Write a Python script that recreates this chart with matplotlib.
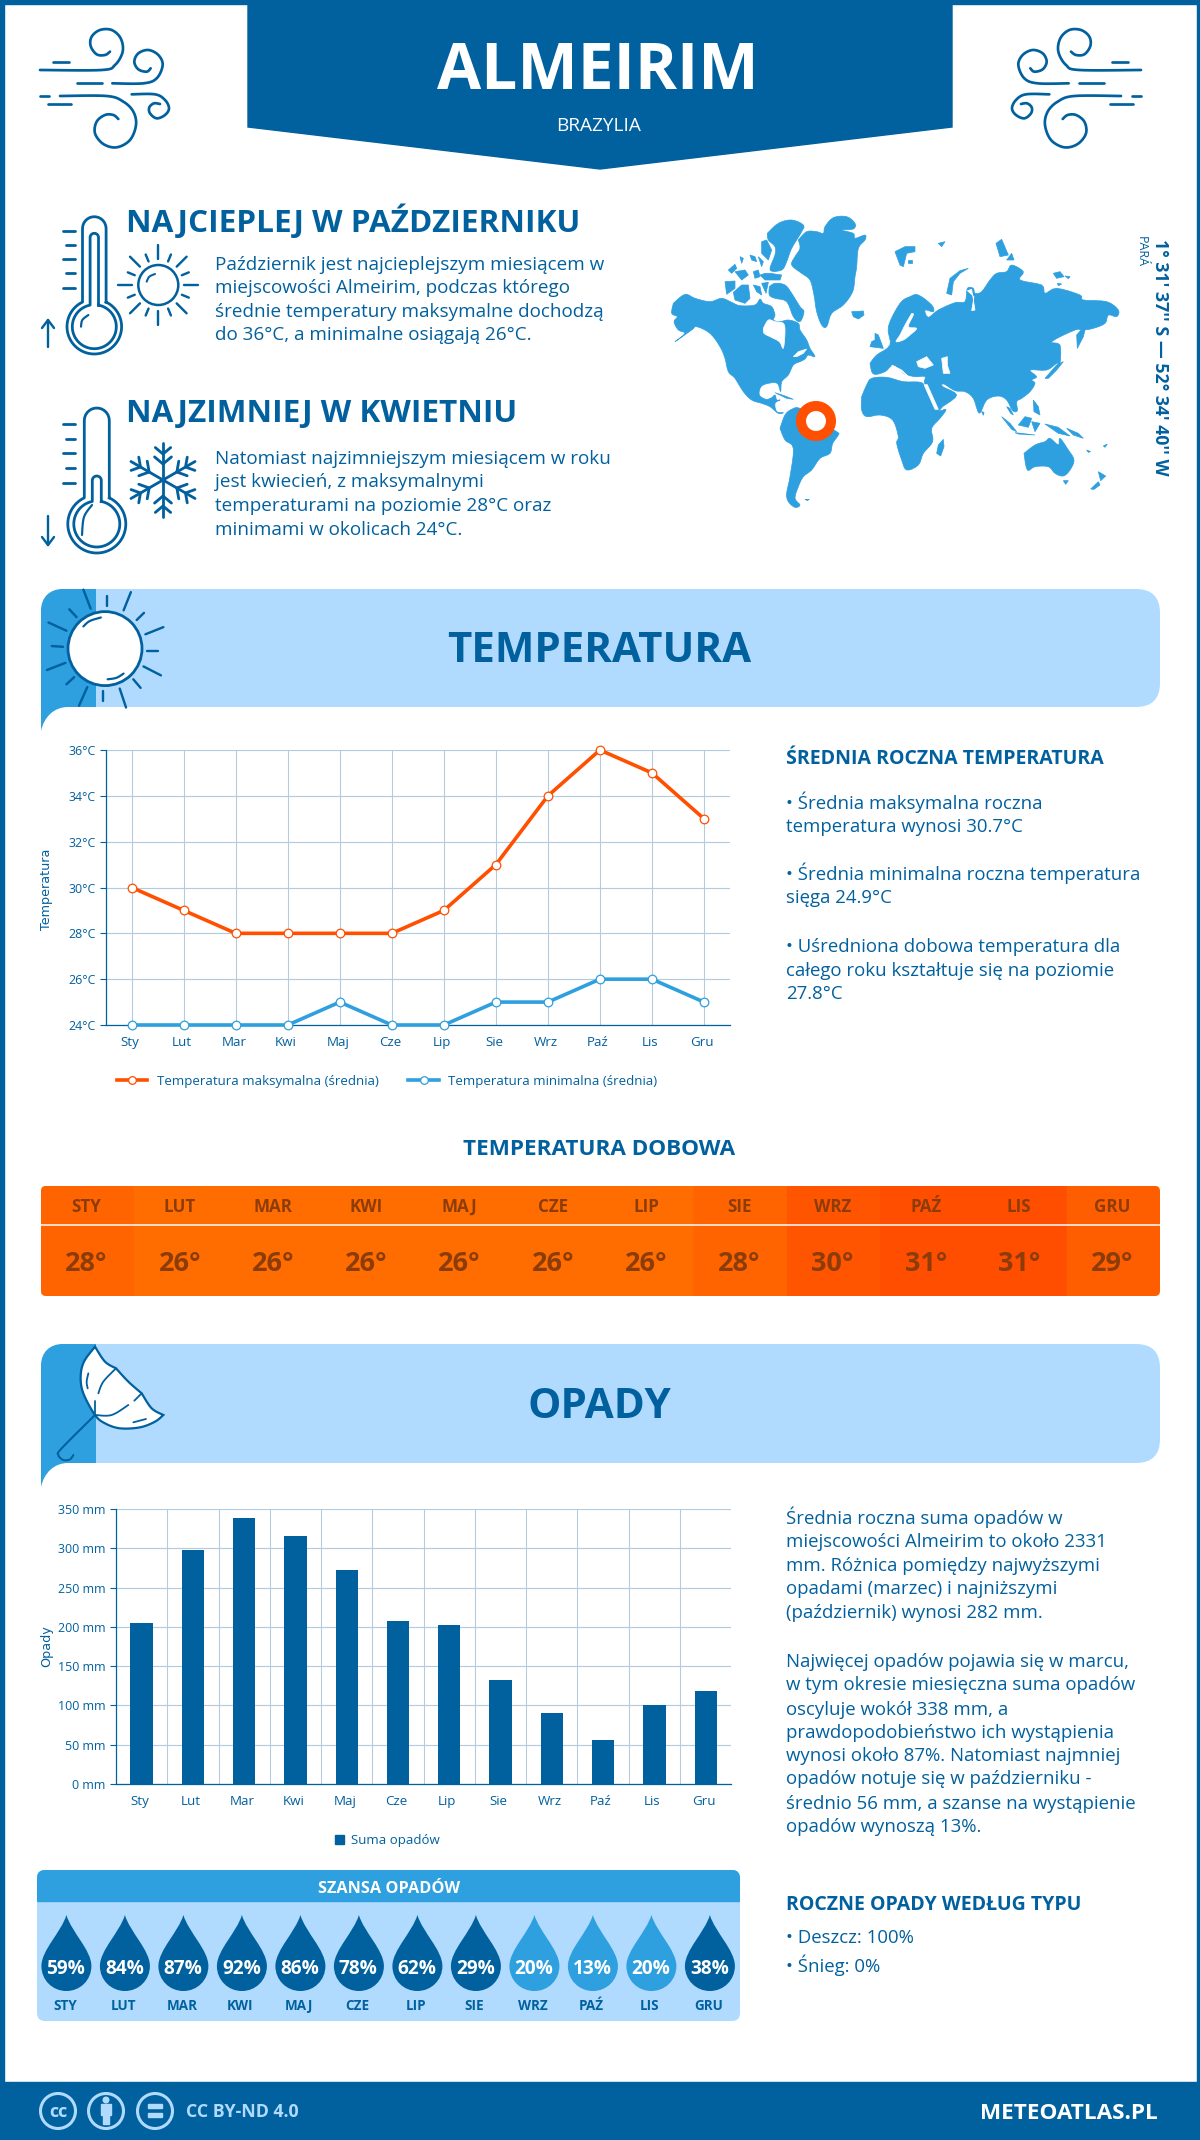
import numpy as np
import matplotlib
matplotlib.use('Agg')
import matplotlib.pyplot as plt
from matplotlib.patches import Polygon, Circle, Rectangle, FancyBboxPatch, PathPatch
from matplotlib.path import Path
from matplotlib.ticker import FixedLocator, FuncFormatter
from matplotlib.transforms import ScaledTranslation

plt.rcParams['font.family'] = ['Open Sans', 'DejaVu Sans']

DARK = '#01609e'
MID = '#2e9fdf'
LIGHT = '#b0dbff'
ORANGE = '#ff4f00'
GRID = '#b3cbdf'
BROWN = '#8c3c08'

months = ['Sty', 'Lut', 'Mar', 'Kwi', 'Maj', 'Cze', 'Lip', 'Sie', 'Wrz', 'Paź', 'Lis', 'Gru']
months_up = ['STY', 'LUT', 'MAR', 'KWI', 'MAJ', 'CZE', 'LIP', 'SIE', 'WRZ', 'PAŹ', 'LIS', 'GRU']
temp_max = [30, 29, 28, 28, 28, 28, 29, 31, 34, 36, 35, 33]
temp_min = [24, 24, 24, 24, 25, 24, 24, 25, 25, 26, 26, 25]
temp_day = [28, 26, 26, 26, 26, 26, 26, 28, 30, 31, 31, 29]
rain = [205, 298, 338, 316, 272, 208, 202, 132, 90, 56, 100, 119]
rain_chance = [59, 84, 87, 92, 86, 78, 62, 29, 20, 13, 20, 38]
temp_ticks = [24, 26, 28, 30, 32, 34, 36]
rain_ticks = [0, 50, 100, 150, 200, 250, 300, 350]
day_colors = {26: '#ff6c00', 28: '#ff6400', 29: '#ff5e00', 30: '#ff5500', 31: '#ff4e00'}

hot_lines = ['Październik jest najcieplejszym miesiącem w',
             'miejscowości Almeirim, podczas którego',
             'średnie temperatury maksymalne dochodzą',
             'do 36°C, a minimalne osiągają 26°C.']
cold_lines = ['Natomiast najzimniejszym miesiącem w roku',
              'jest kwiecień, z maksymalnymi',
              'temperaturami na poziomie 28°C oraz',
              'minimami w okolicach 24°C.']
temp_lines = [(802, '• Średnia maksymalna roczna'), (825, 'temperatura wynosi 30.7°C'),
              (873, '• Średnia minimalna roczna temperatura'), (896, 'sięga 24.9°C'),
              (945, '• Uśredniona dobowa temperatura dla'), (969, 'całego roku kształtuje się na poziomie'),
              (992, '27.8°C')]
rain_lines = [(1517, 'Średnia roczna suma opadów w'), (1540, 'miejscowości Almeirim to około 2331'),
              (1564, 'mm. Różnica pomiędzy najwyższymi'), (1587, 'opadami (marzec) i najniższymi'),
              (1611, '(październik) wynosi 282 mm.'),
              (1660, 'Najwięcej opadów pojawia się w marcu,'), (1683, 'w tym okresie miesięczna suma opadów'),
              (1708, 'oscyluje wokół 338 mm, a'), (1731, 'prawdopodobieństwo ich wystąpienia'),
              (1754, 'wynosi około 87%. Natomiast najmniej'), (1777, 'opadów notuje się w październiku -'),
              (1802, 'średnio 56 mm, a szanse na wystąpienie'), (1825, 'opadów wynoszą 13%.')]

fig = plt.figure(figsize=(12, 21.4), dpi=100, facecolor='white')
bg = fig.add_axes([0, 0, 1, 1])
bg.set_xlim(0, 1200)
bg.set_ylim(2140, 0)
bg.axis('off')


def px_axes(left, top, right, bottom):
    return fig.add_axes([left / 1200, 1 - bottom / 2140, (right - left) / 1200, (bottom - top) / 2140],
                        facecolor='none')


def txt(x, y, s, size, color=DARK, weight='normal', ha='left', **kw):
    # y is the middle of the capitals, size in pixels
    return bg.text(x, y + 0.357 * size, s, fontsize=size * 0.72, color=color, fontweight=weight,
                   ha=ha, va='baseline', **kw)


def curve(pts, n=10):
    p = np.array(pts, dtype=float)
    p = np.vstack([p[0], p, p[-1]])
    out = []
    for i in range(1, len(p) - 2):
        for t in np.linspace(0, 1, n, endpoint=False):
            out.append(0.5 * (2 * p[i] + (p[i + 1] - p[i - 1]) * t
                              + (2 * p[i - 1] - 5 * p[i] + 4 * p[i + 1] - p[i + 2]) * t ** 2
                              + (3 * p[i] - p[i - 1] - 3 * p[i + 1] + p[i + 2]) * t ** 3))
    out.append(p[-2])
    return np.array(out)


def stroke(pts, lw=2.5, color=DARK, smooth=True, z=3):
    a = curve(pts) if smooth else np.array(pts, dtype=float)
    bg.plot(a[:, 0], a[:, 1], color=color, lw=lw * 0.72, solid_capstyle='round', zorder=z)


def crop(x0, y0, sx=3.0, sy=3.0):
    return lambda pts: [(x0 + x / sx, y0 + y / sy) for x, y in pts]


A = crop(660, 205)
B = crop(860, 230)
C = crop(720, 370)
D = crop(30, 20)
E = crop(40, 1340)
F = crop(55, 210)

# frame, header, footer
bg.add_patch(Rectangle((0, 0), 1200, 3.5, color=DARK))
bg.add_patch(Rectangle((0, 0), 3.5, 2140, color=DARK))
bg.add_patch(Rectangle((1196.5, 0), 3.5, 2140, color=DARK))
bg.add_patch(Polygon([(248, 0), (952, 0), (952, 127), (600, 169), (248, 127)], color=DARK))
bg.add_patch(Rectangle((0, 2082), 1200, 58, color=DARK))
txt(598, 66, 'ALMEIRIM', 64, 'white', 'bold', ha='center')
txt(599, 124, 'BRAZYLIA', 19, 'white', ha='center')

# wind icons, second one mirrored
wind = [[(30, 150), (215, 150), (255, 135), (278, 95), (272, 55), (245, 30), (210, 30), (185, 50), (182, 78),
         (200, 103), (225, 105), (240, 95)],
        [(70, 125), (118, 125)],
        [(140, 190), (215, 190)],
        [(247, 190), (340, 190), (380, 175), (398, 135), (385, 105), (355, 90), (325, 100), (313, 125), (325, 148),
         (350, 155), (362, 145)],
        [(30, 228), (58, 228)],
        [(90, 228), (230, 228), (280, 245), (310, 275), (318, 315), (300, 360), (260, 382), (220, 372), (195, 340),
         (200, 305), (225, 285), (250, 285), (265, 297)],
        [(55, 253), (122, 253)],
        [(305, 223), (375, 223), (405, 240), (417, 265), (405, 285), (380, 295), (360, 280), (358, 262), (372, 250),
         (390, 252)]]
for w in wind:
    stroke(D(w), 2.7)
    stroke([(1181 - x, y) for x, y in D(w)], 2.7)


# thermometers
def thermometer(cx, top, bulb, inner_top, ticks, arrow_up, r_out, r_in, tw_out, tw_in):
    for r, tw, t0 in [(r_out, tw_out, top), (r_in, tw_in, inner_top)]:
        s = np.arcsin(tw / r)
        ang = np.linspace(-np.pi / 2 + s, 3 * np.pi / 2 - s, 70)
        cap = np.linspace(np.pi, 2 * np.pi, 14)
        xs = np.concatenate([cx + r * np.cos(ang), cx + tw * np.cos(cap), [cx + tw]])
        ys = np.concatenate([bulb + r * np.sin(ang), t0 + tw + tw * np.sin(cap), [bulb - r * np.cos(s)]])
        bg.plot(xs, ys, color=DARK, lw=2.0, zorder=3)
    for i, y in enumerate(ticks):
        stroke([(62.5 if i % 2 == 0 else 66, y), (75, y)], 2.8, smooth=False)
    a, b = (347, 320) if arrow_up else (516, 545)
    stroke([(48, a), (48, b)], 2.4, smooth=False)
    d = 8 if arrow_up else -8
    stroke([(42, b + d), (48, b), (54, b + d)], 2.4, smooth=False)


thermometer(94.3, 216.7, 326.7, 233.3, [230.7, 245, 259.3, 273.3, 287.7], True, 27.3, 22, 11.8, 4.2)
thermometer(96.8, 408, 524, 476, [424, 438.5, 453, 468, 482.5], False, 29, 23, 12.5, 4.5)
stroke(F([(78, 350), (82, 330), (100, 315)]), 2.2)
stroke([(82, 535), (84, 517), (92, 505)], 2.2)

# sun icon
bg.add_patch(Circle((158.3, 285), 20, fc='none', ec=DARK, lw=1.8))
for k in range(16):
    a = np.radians(k * 22.5)
    r1, r2 = (26, 40) if k % 2 == 0 else (25.5, 33)
    stroke([(158.3 + r1 * np.cos(a), 285 + r1 * np.sin(a)), (158.3 + r2 * np.cos(a), 285 + r2 * np.sin(a))],
           2.4, smooth=False)
stroke(F([(275, 215), (283, 200), (300, 192)]), 2)

# snowflake icon
for k in range(6):
    a = np.radians(90 + k * 60)
    u = np.array([np.cos(a), np.sin(a)])
    c = np.array([163, 480])
    stroke([c, c + u * 37], 2.8, smooth=False)
    for dist, blen in [(16, 11), (26, 10)]:
        for sgn in (-1, 1):
            b = np.radians(90 + k * 60 + sgn * 50)
            stroke([c + u * dist, c + u * dist + np.array([np.cos(b), np.sin(b)]) * blen], 2.8, smooth=False)

txt(125.5, 221, 'NAJCIEPLEJ W PAŹDZIERNIKU', 31.5, weight='bold')
txt(125.5, 411, 'NAJZIMNIEJ W KWIETNIU', 31.5, weight='bold')
for y, s in zip([263, 286, 310, 333.5], hot_lines):
    txt(215, y, s, 18.9)
for y, s in zip([457, 480, 504, 528], cold_lines):
    txt(215, y, s, 18.9)

# world map, outlines traced by eye from enlarged crops
land = [
    A([(40, 295), (75, 268), (105, 280), (150, 290), (185, 280), (215, 292), (240, 302), (285, 300), (300, 282),
       (310, 295), (335, 305), (345, 330), (340, 345), (360, 350), (385, 345), (415, 355), (420, 375), (440, 405),
       (450, 430), (465, 455), (445, 450), (435, 462), (420, 470), (400, 480), (385, 510), (365, 530), (362, 560),
       (352, 535), (325, 535), (303, 545), (298, 570), (318, 583), (335, 578), (345, 570), (350, 585)])
    + C([(180, 90), (165, 100), (170, 125), (190, 128), (175, 130), (150, 110), (125, 100), (95, 90), (70, 65), (45, 25)])
    + A([(205, 500), (195, 460), (180, 425), (150, 385), (110, 365), (95, 375), (45, 410), (75, 385), (55, 375),
         (42, 350), (52, 335), (35, 325)]),
    A([(415, 105), (440, 80), (470, 80), (490, 85), (495, 65), (520, 38), (560, 35), (585, 55), (580, 72), (545, 75),
       (580, 85), (585, 100), (615, 90), (615, 105), (595, 130), (590, 185), (585, 215), (578, 260), (550, 300),
       (515, 325), (500, 365), (485, 360), (470, 320), (462, 270), (450, 225), (425, 205), (395, 180), (405, 155),
       (420, 130)]),
    A([(575, 320), (610, 318), (612, 330), (595, 342), (580, 335)]),
    A([(322, 85), (355, 55), (395, 45), (430, 60), (425, 80), (395, 130), (380, 170), (365, 195), (330, 195),
       (345, 150), (345, 125), (325, 105)]),
    A([(305, 110), (320, 105), (335, 135), (325, 165), (305, 145)]),
    A([(205, 195), (225, 178), (230, 190), (215, 205)]), A([(225, 200), (255, 195), (265, 210), (245, 225)]),
    A([(270, 150), (285, 155), (290, 170), (275, 165)]), A([(280, 200), (295, 195), (300, 215), (285, 220)]),
    A([(300, 210), (315, 205), (330, 205), (365, 210), (360, 225), (315, 225)]),
    A([(295, 155), (310, 170), (305, 185)]), A([(240, 155), (250, 160), (245, 175)]),
    A([(195, 230), (225, 228), (225, 250), (200, 268)]),
    A([(220, 262), (245, 240), (265, 240), (270, 280), (255, 295), (225, 285)]),
    A([(280, 240), (300, 245), (305, 270), (290, 260)]), A([(305, 235), (325, 232), (318, 265)]),
    A([(328, 245), (345, 235), (375, 240), (395, 265), (420, 305), (432, 320), (420, 350), (400, 335), (380, 290),
       (345, 280), (328, 270)]),
    C([(165, 68), (195, 78), (220, 88), (200, 85)]),
    # south america
    C([(180, 175), (195, 135), (215, 118), (240, 115), (290, 150), (350, 185), (355, 195), (338, 220), (330, 250),
       (300, 265), (275, 300), (250, 320), (235, 350), (225, 385), (240, 405), (225, 412), (205, 395), (200, 370),
       (210, 320), (220, 235), (195, 210)]),
    C([(255, 388), (268, 388), (262, 392)]),
    # africa
    C([(425, 80), (440, 45), (455, 25), (500, 22), (550, 35), (605, 38), (620, 65), (650, 120), (678, 118), (660, 145),
       (635, 175), (638, 215), (610, 250), (595, 285), (560, 300), (545, 270), (530, 220), (535, 200), (518, 150),
       (480, 135), (440, 140), (425, 120)]),
    C([(650, 250), (655, 225), (670, 208), (672, 230), (662, 258)]),
    # eurasia
    B([(30, 400), (50, 375), (90, 345), (85, 290), (120, 220), (150, 200), (175, 195), (215, 225), (220, 245),
       (195, 240), (205, 262), (235, 240), (285, 218), (315, 215), (322, 175), (340, 175), (345, 190), (365, 185),
       (390, 150), (410, 130), (440, 125), (455, 105), (490, 125), (480, 150), (545, 165), (555, 190), (590, 175),
       (660, 195), (670, 210), (740, 215), (775, 240), (770, 260), (745, 255), (735, 280), (700, 295), (670, 300),
       (645, 300), (575, 335), (600, 345), (600, 400), (590, 400), (560, 420), (510, 420), (530, 440), (515, 450)])
    + C([(945, 40), (930, 65), (905, 85), (890, 95), (892, 122), (878, 122), (860, 90), (835, 78), (800, 90),
         (778, 130), (760, 85), (735, 65), (705, 62), (672, 42), (668, 50), (710, 75), (670, 108), (650, 118),
         (615, 45), (615, 20)])
    + B([(165, 440), (130, 430), (100, 405), (75, 425), (40, 432)]),
    B([(45, 310), (55, 315), (70, 355), (30, 350), (35, 335), (45, 330)]),
    B([(260, 190), (270, 145), (300, 122), (325, 115), (300, 130), (280, 155), (275, 195)]),
    B([(105, 65), (135, 50), (165, 50), (165, 65), (140, 70), (130, 110), (120, 105)]),
    B([(145, 90), (155, 90), (155, 100), (145, 100)]), B([(235, 40), (255, 35), (245, 50)]),
    B([(408, 40), (425, 28), (445, 75), (420, 80)]), B([(440, 90), (455, 70), (462, 90)]),
    B([(580, 130), (600, 125), (612, 140), (590, 145)]), B([(615, 138), (630, 140), (625, 146)]),
    B([(592, 160), (605, 162), (595, 167)]),
    B([(652, 355), (650, 315), (680, 280), (670, 320)]),
    B([(555, 445), (590, 405), (610, 395), (590, 420), (565, 445)]),
    # australia and islands
    C([(912, 250), (945, 225), (975, 215), (990, 205), (1015, 225), (1020, 205), (1045, 240), (1062, 270), (1050, 300),
       (1030, 318), (1005, 310), (985, 290), (945, 290), (922, 300)]),
    C([(1030, 332), (1045, 332), (1037, 343)]),
    C([(1112, 357), (1135, 335), (1140, 345), (1122, 358)]), C([(1135, 305), (1157, 318), (1142, 332)]),
    C([(845, 140), (870, 160), (890, 185), (875, 178)]), C([(895, 165), (915, 140), (935, 145), (925, 172)]),
    C([(885, 188), (945, 195), (895, 192)]), C([(935, 155), (960, 160), (945, 185)]),
    C([(975, 162), (1015, 172), (1050, 198), (1015, 190)]), C([(940, 90), (955, 110), (960, 135), (942, 125)]),
    C([(785, 125), (792, 127), (790, 136)]), C([(860, 110), (870, 115), (880, 135), (872, 130)]),
    C([(1100, 240), (1112, 245), (1105, 247)]), C([(1150, 228), (1162, 222), (1155, 232)]),
    C([(1040, 175), (1075, 190), (1090, 205), (1060, 195)]),
]
holes = [
    A([(310, 370), (325, 345), (345, 350), (370, 355), (375, 380), (370, 430), (358, 410), (330, 395), (312, 385)]),
    A([(345, 290), (375, 300), (385, 310), (370, 325), (345, 320)]),
    A([(400, 455), (415, 440), (440, 432), (430, 445), (410, 455)]),
    B([(155, 250), (160, 255), (145, 290), (170, 295), (150, 315), (130, 330), (108, 335), (120, 315), (135, 285)]),
    B([(170, 395), (200, 380), (220, 405), (195, 415), (175, 410)]),
    B([(245, 385), (262, 380), (262, 405), (270, 430), (250, 430)]),
    B([(322, 182), (335, 178), (345, 240), (335, 242), (342, 200)]),
    B([(95, 405), (125, 420), (150, 445), (135, 432), (110, 418)]),
    C([(612, 44), (622, 44), (655, 118), (645, 118)]),
]


def soften(poly):
    # rounds the long outlines so the coast is not all straight pieces
    if len(poly) < 8:
        return poly
    return curve(poly + poly[:1], n=4)


for poly in land:
    bg.add_patch(Polygon(soften(poly), fc=MID, ec=MID, lw=0.5, zorder=1))
for poly in holes:
    bg.add_patch(Polygon(soften(poly), fc='white', ec='white', lw=0.5, zorder=1.5))
bg.add_patch(Circle((816, 421), 15, fc='white', ec=ORANGE, lw=7.2, zorder=2))
bg.text(1154.6, 357, "1° 31' 37'' S — 52° 34' 40'' W", fontsize=17.8 * 0.72, color=DARK, fontweight='bold',
        ha='center', va='baseline', rotation=-90, rotation_mode='anchor')
bg.text(1137.5, 252, 'PARÁ', fontsize=12.5 * 0.72, color=DARK, ha='center', va='baseline', rotation=-90,
        rotation_mode='anchor')


# section banners
def banner(top, bottom):
    bg.add_patch(FancyBboxPatch((41, top), 1119, bottom - top, boxstyle='round,pad=0,rounding_size=24',
                                fc=LIGHT, ec='none', zorder=1))
    verts = [(96, top), (96, bottom), (68, bottom), (54, bottom), (44, bottom + 10), (41, bottom + 24),
             (41, top + 22), (41, top + 8), (50, top), (63, top), (96, top)]
    codes = [Path.MOVETO, Path.LINETO, Path.LINETO, Path.CURVE4, Path.CURVE4, Path.CURVE4,
             Path.LINETO, Path.CURVE4, Path.CURVE4, Path.CURVE4, Path.CLOSEPOLY]
    bg.add_patch(PathPatch(Path(verts, codes), fc=MID, ec='none', zorder=1.2))


banner(589, 707)
banner(1344, 1463)
txt(599, 647, 'TEMPERATURA', 42, weight='bold', ha='center')
txt(599, 1403, 'OPADY', 42, weight='bold', ha='center')

b2 = crop(0, 570, 2.063, 2.8)
bg.add_patch(Circle((105, 648.6), 37, fc='white', ec=DARK, lw=2, zorder=3))
sun_rays = [(172, 55, 187, 108), (220, 72, 220, 102), (270, 62, 255, 113), (297, 120, 282, 140),
            (337, 160, 300, 180), (326, 226, 303, 226), (332, 295, 296, 270), (290, 330, 275, 306),
            (260, 385, 247, 332), (212, 368, 212, 340), (163, 380, 180, 328), (137, 320, 153, 300),
            (97, 280, 135, 260), (107, 213, 130, 215), (100, 147, 137, 170), (143, 110, 158, 132)]
for x0, y0, x1, y1 in sun_rays:
    stroke(b2([(x0, y0), (x1, y1)]), 2.4, smooth=False)
stroke(b2([(172, 158), (185, 143), (208, 133)]), 2.2)
stroke(b2([(222, 306), (240, 302), (255, 290)]), 2.2)

# umbrella
canopy = np.vstack([curve(E([(165, 20), (132, 65), (122, 110), (130, 160), (165, 225), (195, 250), (240, 265),
                             (300, 262), (345, 245), (370, 225)])),
                    curve(E([(370, 225), (335, 205), (305, 160)])),
                    curve(E([(305, 160), (265, 125), (228, 85)])),
                    curve(E([(228, 85), (195, 65), (165, 20)]))])
bg.add_patch(Polygon(canopy, fc='white', ec=DARK, lw=1.6, zorder=3))
stroke(E([(165, 225), (65, 325), (55, 345), (70, 360), (90, 358), (100, 345)]), 2, z=4)
stroke(E([(165, 225), (165, 182)]), 1.8, z=4)
stroke(E([(175, 160), (190, 125), (228, 85)]), 1.8, z=4)
stroke(E([(165, 225), (215, 225), (265, 195)]), 1.8, z=4)
stroke(E([(283, 182), (305, 160)]), 1.8, z=4)
stroke(E([(145, 100), (140, 125), (143, 145)]), 1.8, z=4)
stroke(E([(280, 247), (318, 237)]), 1.8, z=4)

# temperature chart
ax = px_axes(105.7, 750, 730, 1025)
x = np.arange(12)
ax.plot(x, temp_max, color=ORANGE, lw=2.6, marker='o', ms=6.2, mfc='white', mec=ORANGE, mew=0.9, clip_on=False, zorder=4)
ax.plot(x, temp_min, color=MID, lw=2.6, marker='o', ms=6.2, mfc='white', mec=MID, mew=0.9, clip_on=False, zorder=4)
ax.set_xlim(-0.5, 11.5)
ax.set_ylim(24, 36)
ax.yaxis.set_major_locator(FixedLocator(temp_ticks))
ax.yaxis.set_major_formatter(FuncFormatter(lambda v, p: f'{v:.0f}°C'))
ax.set_xticks(x)
ax.set_xticklabels(months)
ax.set_ylabel('Temperatura', family='DejaVu Sans', fontsize=9.2, color=DARK, labelpad=0)
ax.yaxis.set_label_coords((53 - 105.7) / 624.3, 0.495)

# rain chart
ax2 = px_axes(116, 1509, 731.3, 1784)
ax2.bar(x, rain, width=0.435, color=DARK, zorder=3)
ax2.set_xlim(-0.5, 11.5)
ax2.set_ylim(0, 350)
ax2.yaxis.set_major_locator(FixedLocator(rain_ticks))
ax2.yaxis.set_major_formatter(FuncFormatter(lambda v, p: f'{v:.0f} mm'))
ax2.set_xticks(x)
ax2.set_xticklabels(months)
ax2.set_xticks(np.arange(0.5, 11), minor=True)
ax2.set_ylabel('Opady', family='DejaVu Sans', fontsize=9.2, color=DARK, labelpad=0)
ax2.yaxis.set_label_coords((53 - 116) / 615.3, 0.5)

for a, which in ((ax, 'major'), (ax2, 'minor')):
    a.grid(True, axis='y', color=GRID, lw=0.85, zorder=0)
    a.grid(True, axis='x', which=which, color=GRID, lw=0.75, zorder=0)
    a.set_axisbelow(True)
    for side in ('top', 'right'):
        a.spines[side].set_visible(False)
    for side in ('left', 'bottom'):
        a.spines[side].set_color(DARK)
        a.spines[side].set_linewidth(0.9)
    a.tick_params(axis='y', length=4.5, color=DARK, width=0.8, labelcolor=DARK, labelsize=8.9, pad=3)
    a.tick_params(axis='x', length=0, labelcolor=DARK, labelsize=9.6, pad=8)
    a.tick_params(axis='x', which='minor', length=0)
    for lab in a.get_xticklabels():
        lab.set_transform(lab.get_transform() + ScaledTranslation(-2 / 100, 0, fig.dpi_scale_trans))

# chart legends
bg.plot([117, 147], [1080, 1080], color=ORANGE, lw=2.6, zorder=3)
bg.plot([132], [1080], marker='o', ms=5.5, mfc='white', mec=ORANGE, mew=0.9, zorder=4)
txt(157, 1080, 'Temperatura maksymalna (średnia)', 13.3)
bg.plot([408, 439], [1080, 1080], color=MID, lw=2.6, zorder=3)
bg.plot([423.5], [1080], marker='o', ms=5.5, mfc='white', mec=MID, mew=0.9, zorder=4)
txt(448, 1080, 'Temperatura minimalna (średnia)', 13.3)
bg.add_patch(Rectangle((335, 1835), 8.5, 8.5, color=DARK))
txt(351, 1839, 'Suma opadów', 13.3)

# daily temperature strip
txt(599, 1147, 'TEMPERATURA DOBOWA', 22.5, weight='bold', ha='center')
strip = FancyBboxPatch((41, 1186), 1119, 110, boxstyle='round,pad=0,rounding_size=5', fc='none', ec='none')
bg.add_patch(strip)
cell = 1119 / 12
for i, v in enumerate(temp_day):
    r = Rectangle((41 + i * cell, 1186), cell + 0.5, 110, color=day_colors[v], zorder=1)
    bg.add_patch(r)
    r.set_clip_path(strip)
    cx = 41 + (i + 0.5) * cell
    txt(cx - 1, 1206, months_up[i], 17, BROWN, 'bold', ha='center')
    txt(cx - 1, 1261, f'{v}°', 27, BROWN, 'bold', ha='center')
bg.plot([41, 1160], [1225, 1225], color='white', lw=1.1, zorder=2)

# text columns
txt(786, 757, 'ŚREDNIA ROCZNA TEMPERATURA', 19.5, weight='bold')
for y, s in temp_lines:
    txt(786, y, s, 18.6)
for y, s in rain_lines:
    txt(786, y, s, 18.6)
txt(786, 1903, 'ROCZNE OPADY WEDŁUG TYPU', 19.5, weight='bold')
txt(786, 1936, '• Deszcz: 100%', 18.6)
txt(786, 1965, '• Śnieg: 0%', 18.6)

# rain chance panel
bg.add_patch(FancyBboxPatch((37, 1870), 703, 151, boxstyle='round,pad=0,rounding_size=8', fc=LIGHT, ec='none', zorder=1))
head = FancyBboxPatch((37, 1870), 703, 40, boxstyle='round,pad=0,rounding_size=8', fc='none', ec='none')
bg.add_patch(head)
hr = Rectangle((37, 1870), 703, 31, color=MID, zorder=1.2)
bg.add_patch(hr)
hr.set_clip_path(head)
txt(389, 1887, 'SZANSA OPADÓW', 16.3, 'white', 'bold', ha='center')
for i, v in enumerate(rain_chance):
    cx = 66.4 + i * 58.5
    w = 25
    verts = [(cx, 1915), (cx + 5, 1932), (cx + w, 1950), (cx + w, 1966), (cx + w, 1980), (cx + 14, 1991), (cx, 1991),
             (cx - 14, 1991), (cx - w, 1980), (cx - w, 1966), (cx - w, 1950), (cx - 5, 1932), (cx, 1915)]
    codes = [Path.MOVETO] + [Path.CURVE4] * 12
    bg.add_patch(PathPatch(Path(verts, codes), fc=MID if v < 25 else DARK, ec='none', zorder=2))
    txt(cx - 0.5, 1967, f'{v}%', 19, 'white', 'bold', ha='center', zorder=3)
    txt(cx - 1.5, 2005, months_up[i], 13.5, DARK, 'bold', ha='center', zorder=3)

# footer
for cx in (58, 106, 155):
    bg.add_patch(Circle((cx, 2111), 17.5, fc='none', ec=LIGHT, lw=2.2, zorder=3))
txt(58, 2111, 'cc', 18, LIGHT, 'bold', ha='center', zorder=4)
bg.add_patch(Circle((106, 2100), 2.8, color=LIGHT, zorder=4))
bg.add_patch(Rectangle((101, 2104), 10, 11, color=LIGHT, zorder=4))
bg.add_patch(Rectangle((103, 2115), 6, 9, color=LIGHT, zorder=4))
bg.add_patch(Rectangle((148, 2104), 14, 4, color=LIGHT, zorder=4))
bg.add_patch(Rectangle((148, 2113), 14, 4, color=LIGHT, zorder=4))
txt(186, 2111, 'CC BY-ND 4.0', 17.7, LIGHT, 'bold', zorder=4)
txt(1158, 2111, 'METEOATLAS.PL', 22.5, 'white', 'bold', ha='right', zorder=4)

fig.savefig('out.png', dpi=100)
